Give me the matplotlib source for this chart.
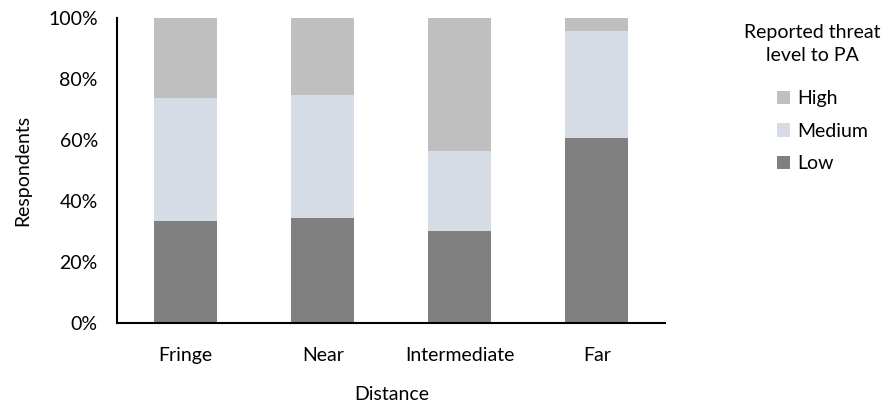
import matplotlib.pyplot as plt
import numpy as np

# data (percent of respondents)
categories = ['Fringe', 'Near', 'Intermediate', 'Far']
low = [33.5, 34.5, 30.2, 60.8]
medium = [40.4, 40.4, 26.2, 34.9]
high = [26.1, 25.1, 43.6, 4.3]

plt.rcParams['font.family'] = ['Lato', 'DejaVu Sans']

fig = plt.figure(figsize=(8.94, 4.07), dpi=100)
ax = fig.add_axes([0.1312, 0.2056, 0.613, 0.7502])

x = np.arange(len(categories))
w = 0.46
b1 = ax.bar(x, low, w, color='#808080', label='Low')
b2 = ax.bar(x, medium, w, bottom=low, color='#D6DCE5', label='Medium')
b3 = ax.bar(x, high, w, bottom=np.array(low) + np.array(medium), color='#BFBFBF', label='High')

ax.set_xlim(-0.5, len(categories) - 0.5)
ax.set_ylim(0, 100)
ax.set_yticks(np.arange(0, 101, 20))
ax.set_yticklabels(['%d%%' % v for v in range(0, 101, 20)])
ax.set_xticks(x)
ax.set_xticklabels(categories)
ax.tick_params(length=0, labelsize=14, colors='black')
ax.tick_params(axis='x', pad=17)
ax.tick_params(axis='y', pad=14)

for s in ['top', 'right']:
    ax.spines[s].set_visible(False)
for s in ['left', 'bottom']:
    ax.spines[s].set_linewidth(1.5)
    ax.spines[s].set_color('black')

ax.set_xlabel('Distance', fontsize=14, labelpad=16)
ax.set_ylabel('Respondents', fontsize=14, labelpad=12)

# legend title drawn as separate centred text
fig.text(0.909, 0.892, 'Reported threat\nlevel to PA', ha='center', va='center',
         fontsize=14, linespacing=1.4)
fig.legend(handles=[b3, b2, b1], loc='upper left', bbox_to_anchor=(0.869, 0.778),
           frameon=False, fontsize=14, handlelength=0.7, handleheight=0.7,
           handletextpad=0.35, labelspacing=0.8, borderpad=0, borderaxespad=0)

fig.savefig('out.png', dpi=100)
